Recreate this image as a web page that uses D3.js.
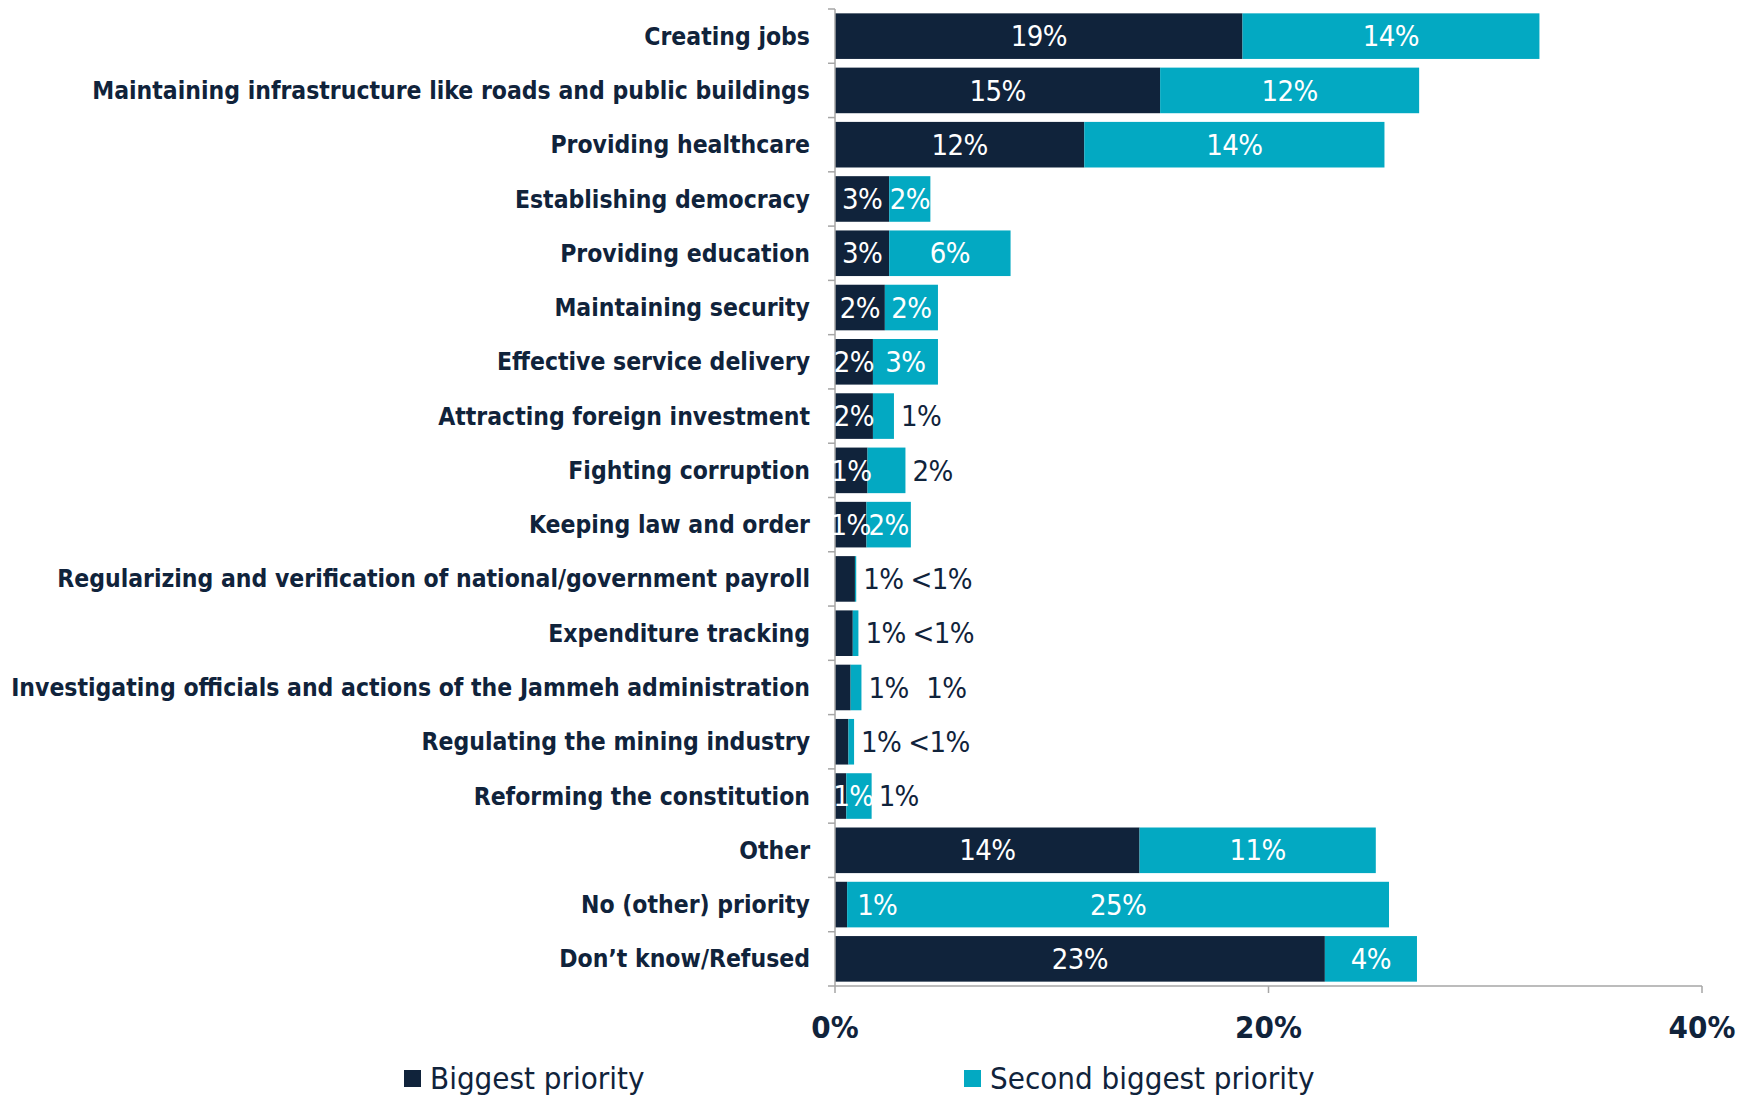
<!DOCTYPE html>
<html>
<head>
<meta charset="utf-8">
<script src="https://cdn.jsdelivr.net/npm/d3@7"></script>
<style>
  body { margin: 0; background: #fff; }
  .cat { font-family: "DejaVu Sans Condensed", "DejaVu Sans", sans-serif; font-weight: bold; font-stretch: condensed; }
  .num { font-family: "Liberation Sans Narrow", "DejaVu Sans Condensed", sans-serif; font-stretch: condensed; }
</style>
</head>
<body>
<div id="chart"></div>
<script>
// categories, top to bottom
var categories = [
    "Creating jobs",
    "Maintaining infrastructure like roads and public buildings",
    "Providing healthcare",
    "Establishing democracy",
    "Providing education",
    "Maintaining security",
    "Effective service delivery",
    "Attracting foreign investment",
    "Fighting corruption",
    "Keeping law and order",
    "Regularizing and verification of national/government payroll",
    "Expenditure tracking",
    "Investigating officials and actions of the Jammeh administration",
    "Regulating the mining industry",
    "Reforming the constitution",
    "Other",
    "No (other) priority",
    "Don\u2019t know/Refused"
];
// series values (percent)
var biggest = [18.8, 15.0, 11.5, 2.5, 2.5, 2.3, 1.75, 1.75, 1.5, 1.45, 0.92, 0.82, 0.72, 0.62, 0.52, 14.05, 0.56, 22.6];
var second  = [13.7, 11.95, 13.85, 1.9, 5.6, 2.45, 3.0, 0.97, 1.75, 2.05, 0.06, 0.26, 0.5, 0.26, 1.17, 10.9, 25.0, 4.25];
// printed labels
var biggestLabels = ["19%", "15%", "12%", "3%", "3%", "2%", "2%", "2%", "1%", "1%", "1%", "1%", "1%", "1%", "1%", "14%", "1%", "23%"];
var secondLabels  = ["14%", "12%", "14%", "2%", "6%", "2%", "3%", "1%", "2%", "2%", "<1%", "<1%", "1%", "<1%", "1%", "11%", "25%", "4%"];
var seriesNames = ["Biggest priority", "Second biggest priority"];
var xTicks = [0, 20, 40];

var colors = ["#10233b", "#03a9c2"];
var textDark = "#10233b";
var axisGrey = "#a6a6a6";

var W = 1750, H = 1097;
var m = {left: 835, right: 1702, top: 9, bottom: 986};

var svg = d3.select("#chart").append("svg")
    .attr("width", W)
    .attr("height", H);

var x = d3.scaleLinear().domain([0, 40]).range([m.left, m.right]);
var y = d3.scaleBand().domain(categories).range([m.top, m.bottom])
    .paddingInner(0.16).paddingOuter(0.08);

var rows = categories.map(function(c, i) {
    return {cat: c, a: biggest[i], b: second[i], la: biggestLabels[i], lb: secondLabels[i]};
});

// bars
var g = svg.append("g");
rows.forEach(function(d) {
    g.append("rect")
        .attr("x", x(0)).attr("y", y(d.cat))
        .attr("width", x(d.a) - x(0)).attr("height", y.bandwidth())
        .attr("fill", colors[0]);
    g.append("rect")
        .attr("x", x(d.a)).attr("y", y(d.cat))
        .attr("width", x(d.a + d.b) - x(d.a)).attr("height", y.bandwidth())
        .attr("fill", colors[1]);
});

// axes
var step = y.step();
var bounds = categories.map(function(c) { return y(c) - step * 0.08; });
bounds.push(m.bottom);
svg.append("line").attr("x1", m.left).attr("x2", m.left).attr("y1", m.top).attr("y2", m.bottom)
    .attr("stroke", axisGrey).attr("stroke-width", 1.5);
bounds.forEach(function(b) {
    svg.append("line").attr("x1", m.left - 7).attr("x2", m.left).attr("y1", b).attr("y2", b)
        .attr("stroke", axisGrey).attr("stroke-width", 1.5);
});
svg.append("line").attr("x1", m.left).attr("x2", m.right).attr("y1", m.bottom).attr("y2", m.bottom)
    .attr("stroke", axisGrey).attr("stroke-width", 1.5);
xTicks.forEach(function(t) {
    svg.append("line").attr("x1", x(t)).attr("x2", x(t)).attr("y1", m.bottom).attr("y2", m.bottom + 7)
        .attr("stroke", axisGrey).attr("stroke-width", 1.5);
    svg.append("text").attr("class", "num")
        .attr("x", x(t)).attr("y", 1027).attr("dy", "0.35em")
        .attr("text-anchor", "middle")
        .attr("font-size", 31).attr("font-weight", "bold")
        .attr("fill", textDark)
        .text(t + "%");
});

// category labels
svg.append("g").selectAll("text")
    .data(categories)
    .enter().append("text")
    .attr("class", "cat")
    .attr("x", m.left - 25)
    .attr("y", function(c) { return y(c) + y.bandwidth() / 2; })
    .attr("dy", "0.35em")
    .attr("text-anchor", "end")
    .attr("font-size", 24.5)
    .attr("fill", textDark)
    .text(function(c) { return c; });

// value labels
var fs = 29;
function addLabel(px, yc, txt, fill, anchor) {
    return svg.append("text").attr("class", "num")
        .attr("x", px).attr("y", yc).attr("dy", "0.35em")
        .attr("text-anchor", anchor)
        .attr("font-size", fs)
        .attr("letter-spacing", -0.6)
        .attr("fill", fill)
        .text(txt);
}
// width of "<", used to nudge a plain "1%" toward the "<1%" column
var probe = addLabel(0, -100, "<", textDark, "start");
var ltWidth = probe.node().getComputedTextLength();
probe.remove();

rows.forEach(function(d) {
    var yc = y(d.cat) + y.bandwidth() / 2;
    var end = x(d.a + d.b);
    var cursor = end + 7;
    var outsideDark = false;
    // biggest priority label
    if (d.a >= 1.2) {
        addLabel((x(0) + x(d.a)) / 2, yc, d.la, "#fff", "middle");
    } else if (d.b >= 5) {
        addLabel(x(d.a) + 10, yc, d.la, "#fff", "start");
    } else if (d.a + d.b >= 1.5) {
        addLabel((x(0) + end) / 2, yc, d.la, "#fff", "middle");
    } else {
        var t = addLabel(cursor, yc, d.la, textDark, "start");
        cursor += t.node().getComputedTextLength() + 7;
        outsideDark = true;
    }
    // second priority label
    if (d.b >= 1.8) {
        addLabel((x(d.a) + end) / 2, yc, d.lb, "#fff", "middle");
    } else {
        if (outsideDark && d.lb.charAt(0) !== "<") cursor += ltWidth * 0.5;
        if (!outsideDark) cursor = end + 7;
        addLabel(cursor, yc, d.lb, textDark, "start");
    }
});

// legend
var legendX = [404, 964];
seriesNames.forEach(function(n, i) {
    svg.append("rect").attr("x", legendX[i]).attr("y", 1070)
        .attr("width", 17).attr("height", 17).attr("fill", colors[i]);
    svg.append("text").attr("class", "num")
        .attr("x", legendX[i] + 26).attr("y", 1078).attr("dy", "0.35em")
        .attr("font-size", 31).attr("fill", textDark)
        .text(n);
});
</script>
</body>
</html>
